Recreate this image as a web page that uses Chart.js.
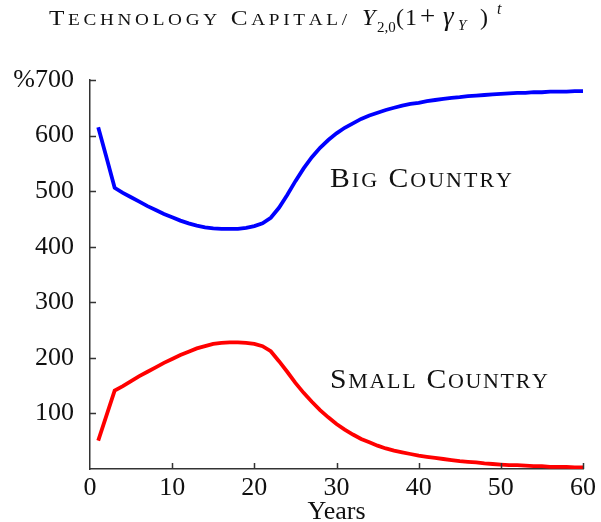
<!DOCTYPE html>
<html>
<head>
<meta charset="utf-8">
<script src="https://cdn.jsdelivr.net/npm/chart.js@4.4.1/dist/chart.umd.min.js"></script>
<style>
  html, body { margin: 0; padding: 0; background: #fff; }
  #wrap { width: 601px; height: 522px; }
</style>
</head>
<body>
<div id="wrap"><canvas id="chart" width="601" height="522"></canvas></div>
<script>
// Technology capital relative to trend output, years 1..60
const years = [
  1, 2, 3, 4, 5, 6, 7, 8, 9, 10, 11, 12, 13, 14, 15, 16, 17, 18, 19, 20,
  21, 22, 23, 24, 25, 26, 27, 28, 29, 30, 31, 32, 33, 34, 35, 36, 37, 38, 39, 40,
  41, 42, 43, 44, 45, 46, 47, 48, 49, 50, 51, 52, 53, 54, 55, 56, 57, 58, 59, 60
];
const bigCountry = [
  615, 561, 506, 497, 489, 481, 473, 466, 459, 453, 447, 442, 438, 435, 433, 432, 432, 432, 434, 437,
  442, 452, 470, 493, 518, 541, 561, 578, 592, 604, 614, 622, 630, 636, 641, 646, 650, 654, 657, 659,
  662, 664, 666, 668, 669, 671, 672, 673, 674, 675, 676, 677, 677, 678, 678, 679, 679, 679, 680, 680
];
const smallCountry = [
  51, 96, 141, 149, 158, 167, 175, 183, 191, 198, 205, 211, 217, 221, 225, 227, 228, 228, 227, 225,
  221, 212, 194, 175, 155, 137, 121, 106, 93, 81, 71, 62, 54, 48, 42, 37, 33, 30, 27, 24,
  22, 20, 18, 16, 14, 13, 12, 10, 9, 8, 7, 7, 6, 5, 5, 4, 4, 4, 3, 3
];
const yTickValues = [100, 200, 300, 400, 500, 600, 700];
const xTickValues = [0, 10, 20, 30, 40, 50, 60];

const SERIF = '"Liberation Serif", "DejaVu Serif", serif';
const INK = '#111';
const AXIS = '#333';

// Draws text runs glyph by glyph (optionally widened by `stretch`), spreading
// the remaining space evenly so the whole string spans `width` pixels.
function drawSpaced(ctx, runs, x, y, width, stretch) {
  const k = stretch || 1;
  const glyphs = [];
  runs.forEach(r => {
    ctx.font = r.font;
    for (const ch of r.text) glyphs.push({ ch, font: r.font, w: ctx.measureText(ch).width * k });
  });
  const natural = glyphs.reduce((s, g) => s + g.w, 0);
  const gap = glyphs.length > 1 ? (width - natural) / (glyphs.length - 1) : 0;
  let cx = x;
  glyphs.forEach(g => {
    ctx.save();
    ctx.font = g.font;
    ctx.translate(cx, y);
    ctx.scale(k, 1);
    ctx.fillText(g.ch, 0, 0);
    ctx.restore();
    cx += g.w + gap;
  });
}

// Small caps: first letter of each word full size, the rest uppercase smaller.
function capsRuns(words, big, small) {
  const runs = [];
  words.forEach((w, i) => {
    if (i > 0) runs.push({ text: ' ', font: `${big}px ${SERIF}` });
    runs.push({ text: w[0], font: `${big}px ${SERIF}` });
    if (w.length > 1) runs.push({ text: w.slice(1).toUpperCase(), font: `${small}px ${SERIF}` });
  });
  return runs;
}

const annotations = {
  id: 'annotations',
  afterDraw(chart) {
    const { ctx, scales: { x, y } } = chart;
    ctx.save();

    // inward tick marks
    ctx.strokeStyle = AXIS;
    ctx.lineWidth = 1.5;
    ctx.beginPath();
    yTickValues.forEach(v => {
      const py = Math.round(y.getPixelForValue(v)) + 0.5;
      ctx.moveTo(x.left, py); ctx.lineTo(x.left + 6, py);
    });
    xTickValues.slice(1).forEach(v => {
      const px = Math.round(x.getPixelForValue(v)) + 0.5;
      ctx.moveTo(px, y.bottom); ctx.lineTo(px, y.bottom - 6);
    });
    ctx.stroke();

    ctx.fillStyle = INK;
    ctx.textBaseline = 'alphabetic';
    ctx.textAlign = 'left';

    // title: small caps part
    drawSpaced(ctx, capsRuns(['Technology', 'Capital/'], 21, 16), 49, 25, 298, 1.2);

    // title: math part  Y_{2,0}(1+γ_Y)^t
    const it = s => `italic ${s}px ${SERIF}`;
    const up = s => `${s}px ${SERIF}`;
    const math = [
      { t: 'Y', f: it(24), x: 362, y: 25 },
      { t: '2,0', f: up(15), x: 377, y: 32 },
      { t: '(', f: up(24), x: 396, y: 25 },
      { t: '1', f: up(24), x: 405, y: 25 },
      { t: '+', f: up(27), x: 420, y: 25 },
      { t: 'γ', f: it(27), x: 443, y: 25 },
      { t: 'Y', f: it(15), x: 458, y: 30 },
      { t: ')', f: up(24), x: 480, y: 25 },
      { t: 't', f: it(16), x: 497, y: 14 }
    ];
    math.forEach(m => { ctx.font = m.f; ctx.fillText(m.t, m.x, m.y); });

    // series labels
    drawSpaced(ctx, capsRuns(['Big', 'Country'], 27, 20), 330, 187, 182, 1.1);
    drawSpaced(ctx, capsRuns(['Small', 'Country'], 27, 20), 330, 388, 218, 1.1);

    ctx.restore();
  }
};

new Chart(document.getElementById('chart'), {
  type: 'line',
  data: {
    datasets: [
      {
        label: 'Big Country',
        data: years.map((t, i) => ({ x: t, y: bigCountry[i] })),
        borderColor: '#0000ff',
        borderWidth: 3.8,
        pointRadius: 0,
        tension: 0
      },
      {
        label: 'Small Country',
        data: years.map((t, i) => ({ x: t, y: smallCountry[i] })),
        borderColor: '#ff0000',
        borderWidth: 3.8,
        pointRadius: 0,
        tension: 0
      }
    ]
  },
  options: {
    responsive: false,
    animation: false,
    devicePixelRatio: 1,
    layout: { padding: { top: 80, right: 18, left: 0, bottom: 0 } },
    plugins: { legend: { display: false }, tooltip: { enabled: false } },
    scales: {
      x: {
        type: 'linear',
        min: 0, max: 60,
        afterFit(scale) { scale.height = 53; },
        afterBuildTicks(scale) { scale.ticks = xTickValues.map(v => ({ value: v })); },
        grid: { display: false, drawTicks: false },
        border: { display: true, color: AXIS, width: 1.5 },
        ticks: { color: INK, font: { family: SERIF, size: 26 }, padding: 4, maxRotation: 0 },
        title: {
          display: true, text: 'Years', color: INK,
          font: { family: SERIF, size: 26, lineHeight: 1 },
          padding: { top: 0, bottom: -3 }
        }
      },
      y: {
        min: 0, max: 700,
        afterFit(scale) { scale.width = 90; },
        afterBuildTicks(scale) { scale.ticks = [0].concat(yTickValues).map(v => ({ value: v })); },
        grid: { display: false, drawTicks: false },
        border: { display: true, color: AXIS, width: 1.5 },
        ticks: {
          color: INK, font: { family: SERIF, size: 26 }, padding: 16,
          callback: v => v === 0 ? '' : (v === 700 ? '%700' : String(v))
        }
      }
    }
  },
  plugins: [annotations]
});
</script>
</body>
</html>
